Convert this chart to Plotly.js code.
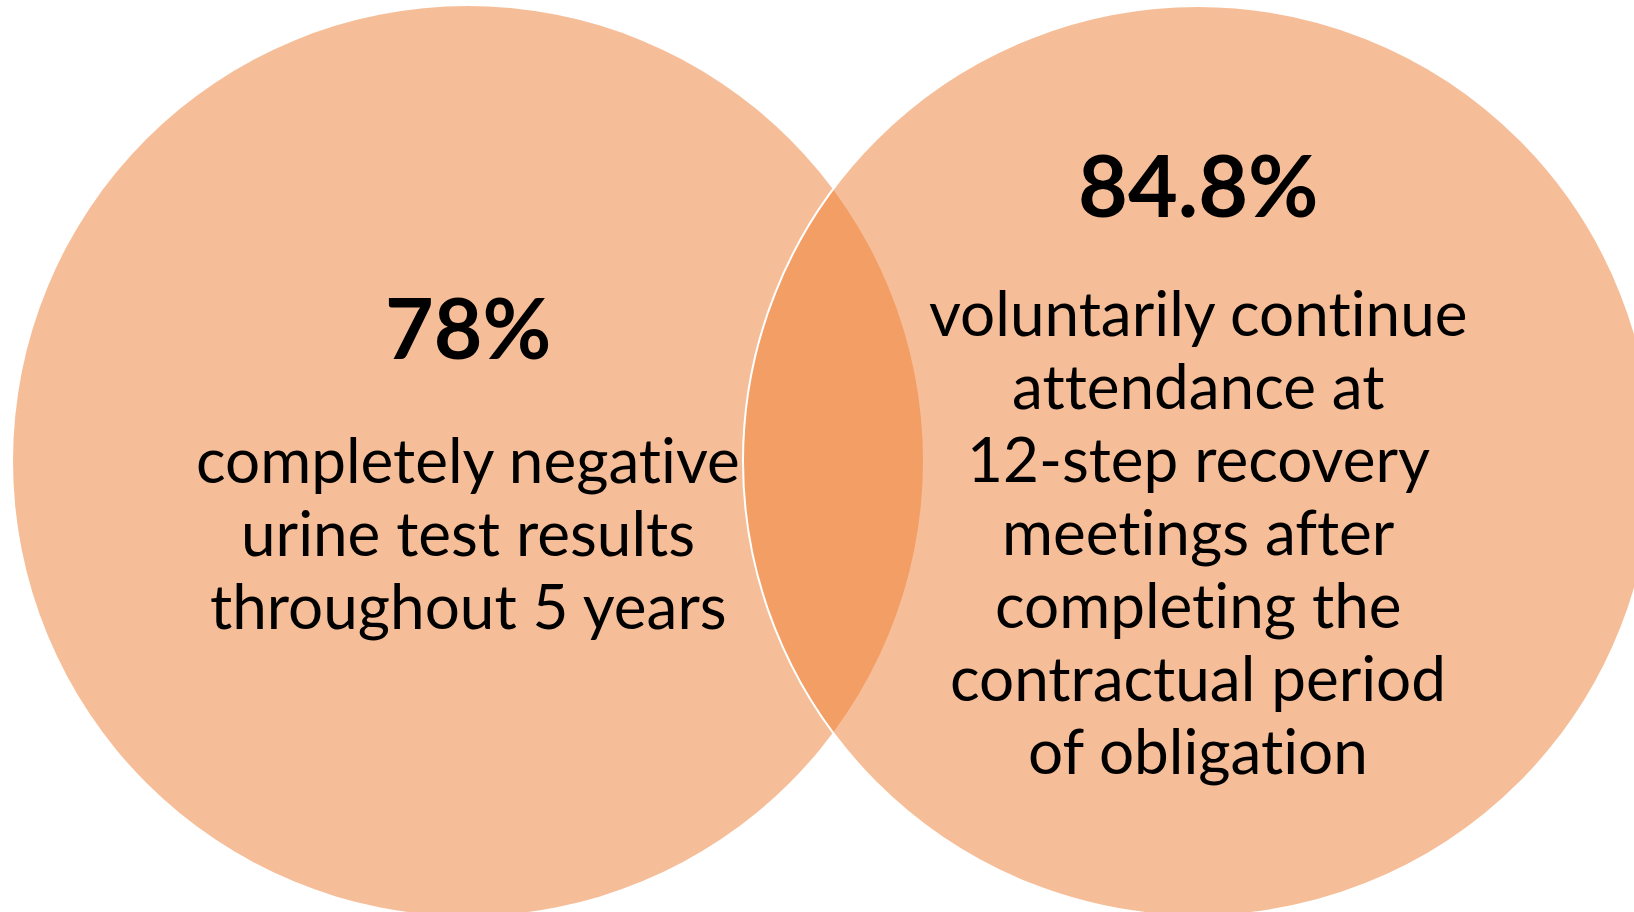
<!DOCTYPE html>
<html>
<head>
<meta charset="utf-8">
<script src="https://cdn.plot.ly/plotly-3.0.1.min.js"></script>
<style>
  html, body { margin: 0; padding: 0; background: #ffffff; }
  #chart { width: 1634px; height: 912px; }
  svg text { font-variant-ligatures: none; font-feature-settings: "liga" 0, "clig" 0; }
</style>
</head>
<body>
<div id="chart"></div>
<script>
// ---- data ----
const setValues = [78, 84.8];
const setNames = ['Negative urine tests', '12-step attendance'];
const leftLines = ['completely negative', 'urine test results', 'throughout 5 years'];
const rightLines = ['voluntarily continue', 'attendance at', '12-step recovery', 'meetings after', 'completing the', 'contractual period', 'of obligation'];

// ---- layout geometry ----
const W = 1634, H = 912;
const R = 455;
const centers = [{x: 468, y: 461}, {x: 1198, y: 461}];
const fill = 'rgba(237,125,49,0.5)';
const lineGap = 73;
const fontFamily = 'Lato, "Open Sans", sans-serif';

const shapes = centers.map((c, i) => ({
  type: 'circle', xref: 'x', yref: 'y', layer: 'below',
  x0: c.x - R, x1: c.x + R, y0: c.y - R, y1: c.y + R,
  fillcolor: fill,
  line: {color: i === 1 ? '#ffffff' : 'rgba(0,0,0,0)', width: i === 1 ? 2 : 0}
}));

const annotations = [];
const pctY = [326, 183];
const pctSize = [84, 86];
setValues.forEach((v, i) => {
  annotations.push({
    x: centers[i].x, y: pctY[i], xref: 'x', yref: 'y',
    text: '<b>' + v + '%</b>', showarrow: false,
    xanchor: 'center', yanchor: 'middle',
    font: {family: fontFamily, size: pctSize[i], color: '#000000'}
  });
});
const bodyStart = [459, 312];
[leftLines, rightLines].forEach((lines, i) => {
  lines.forEach((t, k) => {
    annotations.push({
      x: centers[i].x, y: bodyStart[i] + k * lineGap, xref: 'x', yref: 'y',
      text: t, showarrow: false, xanchor: 'center', yanchor: 'middle',
      font: {family: fontFamily, size: 62, color: '#000000'}
    });
  });
});

const layout = {
  width: W, height: H,
  margin: {l: 0, r: 0, t: 0, b: 0, pad: 0},
  paper_bgcolor: '#ffffff', plot_bgcolor: '#ffffff',
  showlegend: false,
  xaxis: {range: [0, W], visible: false, fixedrange: true},
  yaxis: {range: [H, 0], visible: false, fixedrange: true},
  shapes: shapes,
  annotations: annotations
};

const data = [{
  type: 'scatter', mode: 'markers', x: [], y: [], name: setNames.join(' / '),
  hoverinfo: 'skip'
}];

Plotly.newPlot('chart', data, layout, {staticPlot: true, displayModeBar: false});
</script>
</body>
</html>
